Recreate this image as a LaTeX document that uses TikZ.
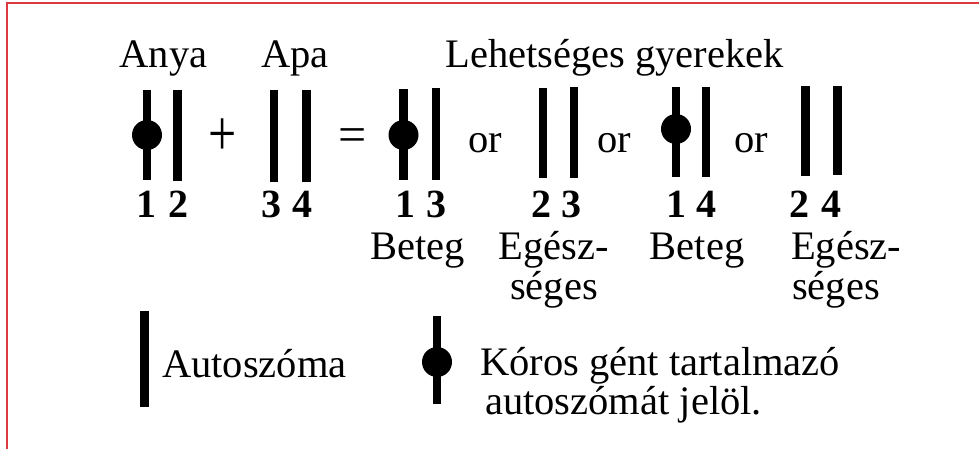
\documentclass[tikz,border=0pt]{standalone}
\usepackage{fontspec}
\setmainfont{Liberation Serif}
\definecolor{framered}{RGB}{222,58,62}
\begin{document}
\begin{tikzpicture}[x=1pt,y=-1pt,
  chrom/.style={line width=8.5pt,line cap=butt},
  gene/.style={fill=black},
  lbl/.style={inner sep=0pt,anchor=base,font=\fontsize{40.5}{40.5}\selectfont},
  lbll/.style={lbl,anchor=base west},
  op/.style={inner sep=0pt,font=\fontsize{50}{50}\selectfont},
  num/.style={inner sep=0pt,anchor=base,font=\fontsize{40}{40}\selectfont\bfseries}]
\useasboundingbox[fill=white] (0,0) rectangle (979,448);
% frame
\draw[framered,line width=2pt] (7,449) -- (7,2.5) -- (980,2.5);

% headings
\node[lbl] (anya) at (163.5,67) {Anya};
\node[lbl] (apa) at (295,67) {Apa};
\node[lbl] (gyerek) at (614.5,67) {Lehetséges gyerekek};

% mother
\draw[chrom] (147,90) -- (147,180);
\fill[gene] (147,135) circle (15);
\draw[chrom] (177.5,90) -- (177.5,181);
\node[num] (n1) at (146,217) {1};
\node[num] (n2) at (178,217) {2};

\node[op,anchor=center] (plus) at (223,137) {\scalebox{1}[1.3]{+}};

% father
\draw[chrom] (274,90) -- (274,182);
\draw[chrom] (306.5,90) -- (306.5,182);
\node[num] (n3) at (271,217) {3};
\node[num] (n4) at (302,217) {4};

\node[op,anchor=base] (eq) at (352.5,151.5) {=};

% child 1-3
\draw[chrom] (403.5,89) -- (403.5,180);
\fill[gene] (403.5,135) circle (15);
\draw[chrom] (436,88) -- (436,180);
\node[num] (c1a) at (405,217) {1};
\node[num] (c1b) at (436,217) {3};
\node[lbl] (or1) at (485,152) {or};

% child 2-3
\draw[chrom] (543,88) -- (543,178);
\draw[chrom] (574,87) -- (574,178);
\node[num] (c2a) at (541,217) {2};
\node[num] (c2b) at (571,217) {3};
\node[lbl] (or2) at (614,152) {or};

% child 1-4
\draw[chrom] (676,87) -- (676,177);
\fill[gene] (676,129) circle (15);
\draw[chrom] (706,87) -- (706,177);
\node[num] (c3a) at (676,217) {1};
\node[num] (c3b) at (706,217) {4};
\node[lbl] (or3) at (751,152) {or};

% child 2-4
\draw[chrom] (805.5,86) -- (805.5,176);
\draw[chrom] (837.5,86) -- (837.5,175);
\node[num] (c4a) at (799,217) {2};
\node[num] (c4b) at (831,217) {4};

% outcomes
\node[lbl] (beteg1) at (417.5,259) {Beteg};
\node[lbl] (eg1a) at (554,259) {Egész-};
\node[lbl] (eg1b) at (554,299) {séges};
\node[lbl] (beteg2) at (697,259) {Beteg};
\node[lbll] (eg2a) at (791,259) {Egész-};
\node[lbll] (eg2b) at (792,299) {séges};

% legend
\draw[chrom] (144.5,311) -- (144.5,407);
\node[lbll] (leg1) at (162,377) {Autoszóma};
\draw[chrom] (437,316) -- (437,404);
\fill[gene] (437,362) circle (15);
\node[lbll] (leg2a) at (480,375) {\raisebox{0pt}[\height][0pt]{Kóros gént tartalmazó}};
\node[lbll] (leg2b) at (485,414) {autoszómát jelöl.};
\end{tikzpicture}
\end{document}
